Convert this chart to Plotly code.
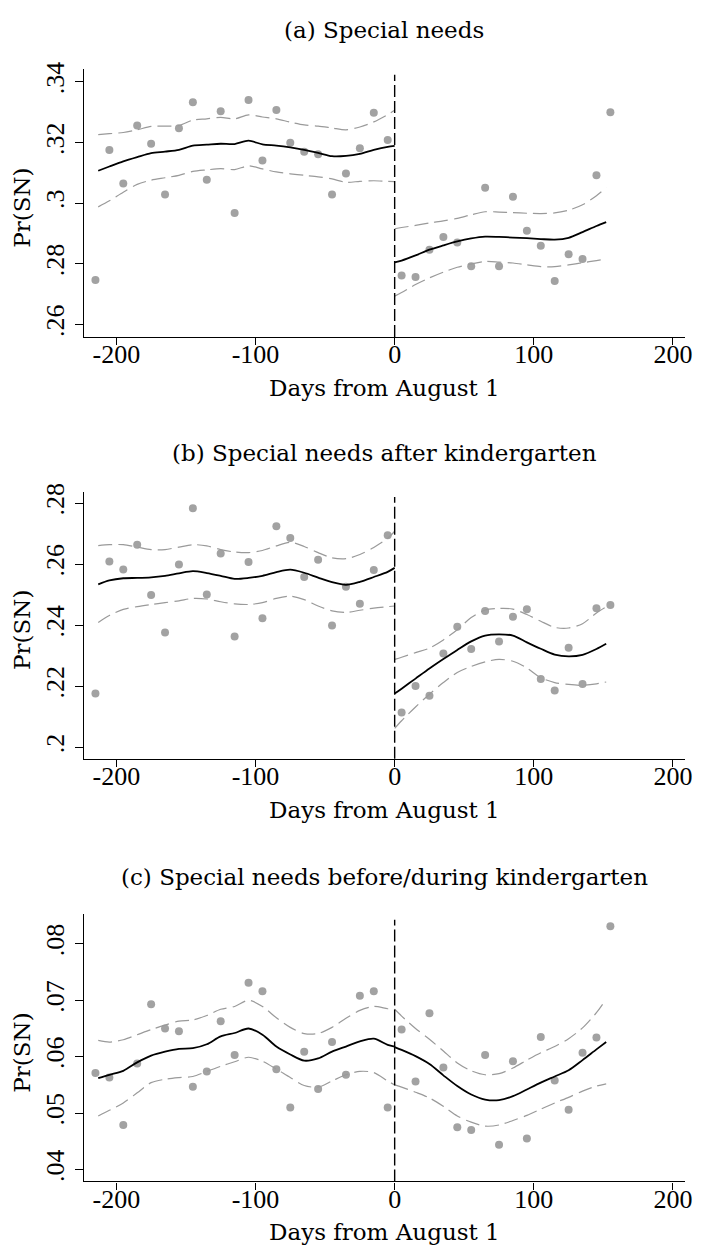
import plotly.graph_objects as go

# ---------------- data ----------------
BIN_LEFT = [-215, -205, -195, -185, -175, -165, -155, -145, -135, -125, -115,
            -105, -95, -85, -75, -65, -55, -45, -35, -25, -15, -5]
BIN_RIGHT = [5, 15, 25, 35, 45, 55, 65, 75, 85, 95, 105, 115, 125, 135, 145, 155]
GRID_LEFT = [-213, -205, -195, -185, -175, -165, -155, -145, -135, -125, -115,
             -105, -95, -85, -75, -65, -55, -45, -35, -25, -15, -5, 0]
GRID_RIGHT = [0, 5, 15, 25, 35, 45, 55, 65, 75, 85, 95, 105, 115, 125, 135, 145, 152]

# Panel (a) Special needs
A_PTS_L = [0.2747, 0.3175, 0.3065, 0.3256, 0.3196, 0.3029, 0.3247, 0.3333, 0.3077, 0.3303, 0.2968,
           0.3340, 0.3141, 0.3307, 0.3199, 0.3170, 0.3161, 0.3029, 0.3098, 0.3181, 0.3298, 0.3208]
A_PTS_R = [0.2762, 0.2757, 0.2847, 0.2889, 0.2871, 0.2792, 0.3051, 0.2792, 0.3021, 0.2909, 0.2860,
           0.2744, 0.2832, 0.2816, 0.3092, 0.3300]
A_FIT_L = [0.3107, 0.3121, 0.3138, 0.3152, 0.3165, 0.3170, 0.3176, 0.3190, 0.3193, 0.3196, 0.3195,
           0.3206, 0.3194, 0.3190, 0.3184, 0.3176, 0.3166, 0.3155, 0.3156, 0.3163, 0.3176, 0.3186, 0.3189]
A_UP_L = [0.3226, 0.3229, 0.3233, 0.3242, 0.3253, 0.3254, 0.3256, 0.3274, 0.3278, 0.3283, 0.3278,
          0.3291, 0.3284, 0.3278, 0.3267, 0.3258, 0.3254, 0.3248, 0.3242, 0.3251, 0.3268, 0.3292, 0.3306]
A_LO_L = [0.2988, 0.3008, 0.3036, 0.3062, 0.3076, 0.3084, 0.3092, 0.3105, 0.3110, 0.3114, 0.3111,
          0.3123, 0.3113, 0.3103, 0.3097, 0.3092, 0.3087, 0.3080, 0.3069, 0.3072, 0.3074, 0.3072, 0.3071]
A_FIT_R = [0.2805, 0.2811, 0.2828, 0.2847, 0.2861, 0.2874, 0.2884, 0.2890, 0.2889, 0.2887, 0.2885,
           0.2882, 0.2880, 0.2886, 0.2905, 0.2925, 0.2938]
A_UP_R = [0.2916, 0.2920, 0.2927, 0.2935, 0.2942, 0.2950, 0.2962, 0.2972, 0.2971, 0.2969, 0.2967,
          0.2966, 0.2968, 0.2977, 0.2995, 0.3025, 0.3051]
A_LO_R = [0.2694, 0.2706, 0.2732, 0.2754, 0.2773, 0.2789, 0.2800, 0.2808, 0.2806, 0.2803, 0.2797,
          0.2791, 0.2791, 0.2797, 0.2804, 0.2811, 0.2816]

# Panel (b) Special needs after kindergarten
B_PTS_L = [0.2176, 0.2609, 0.2583, 0.2664, 0.2499, 0.2376, 0.2599, 0.2783, 0.2501, 0.2635, 0.2363,
           0.2607, 0.2423, 0.2724, 0.2686, 0.2558, 0.2615, 0.2399, 0.2526, 0.2470, 0.2581, 0.2695]
B_PTS_R = [0.2114, 0.2201, 0.2169, 0.2307, 0.2395, 0.2322, 0.2447, 0.2347, 0.2428, 0.2452, 0.2224,
           0.2186, 0.2326, 0.2207, 0.2456, 0.2466]
B_FIT_L = [0.2534, 0.2547, 0.2554, 0.2555, 0.2557, 0.2562, 0.2570, 0.2577, 0.2571, 0.2562, 0.2552,
           0.2555, 0.2562, 0.2574, 0.2582, 0.2572, 0.2556, 0.2541, 0.2532, 0.2542, 0.2558, 0.2575, 0.2588]
B_UP_L = [0.2661, 0.2664, 0.2664, 0.2656, 0.2648, 0.2648, 0.2656, 0.2664, 0.2660, 0.2648, 0.2640,
          0.2638, 0.2645, 0.2660, 0.2672, 0.2658, 0.2638, 0.2621, 0.2618, 0.2632, 0.2655, 0.2685, 0.2708]
B_LO_L = [0.2409, 0.2432, 0.2452, 0.2461, 0.2468, 0.2474, 0.2480, 0.2488, 0.2486, 0.2477, 0.2470,
          0.2468, 0.2474, 0.2488, 0.2495, 0.2484, 0.2463, 0.2447, 0.2442, 0.2449, 0.2456, 0.2461, 0.2463]
B_FIT_R = [0.2176, 0.2192, 0.2225, 0.2258, 0.2289, 0.2319, 0.2347, 0.2366, 0.2370, 0.2366, 0.2344,
           0.2323, 0.2304, 0.2298, 0.2303, 0.2322, 0.2339]
B_UP_R = [0.2288, 0.2295, 0.2310, 0.2325, 0.2352, 0.2385, 0.2425, 0.2450, 0.2455, 0.2453, 0.2435,
          0.2413, 0.2393, 0.2391, 0.2405, 0.2440, 0.2460]
B_LO_R = [0.2062, 0.2087, 0.2132, 0.2174, 0.2212, 0.2245, 0.2265, 0.2280, 0.2288, 0.2282, 0.2260,
          0.2228, 0.2212, 0.2206, 0.2203, 0.2208, 0.2214]

# Panel (c) Special needs before/during kindergarten
C_PTS_L = [0.0571, 0.0563, 0.0479, 0.0588, 0.0693, 0.0650, 0.0645, 0.0547, 0.0574, 0.0663, 0.0603,
           0.0731, 0.0716, 0.0578, 0.0510, 0.0609, 0.0543, 0.0626, 0.0568, 0.0708, 0.0716, 0.0510]
C_PTS_R = [0.0648, 0.0556, 0.0677, 0.0581, 0.0475, 0.0470, 0.0603, 0.0444, 0.0592, 0.0455, 0.0635,
           0.0558, 0.0506, 0.0607, 0.0634, 0.0831]
C_FIT_L = [0.0562, 0.0568, 0.0575, 0.0590, 0.0602, 0.0609, 0.0614, 0.0615, 0.0622, 0.0636, 0.0642,
           0.0650, 0.0639, 0.0618, 0.0604, 0.0593, 0.0597, 0.0609, 0.0618, 0.0627, 0.0632, 0.0621, 0.0618]
C_UP_L = [0.0629, 0.0626, 0.0630, 0.0639, 0.0648, 0.0656, 0.0663, 0.0665, 0.0673, 0.0684, 0.0689,
          0.0700, 0.0689, 0.0669, 0.0652, 0.0641, 0.0641, 0.0652, 0.0668, 0.0682, 0.0689, 0.0685, 0.0684]
C_LO_L = [0.0495, 0.0505, 0.0518, 0.0536, 0.0554, 0.0560, 0.0563, 0.0565, 0.0574, 0.0583, 0.0591,
          0.0599, 0.0592, 0.0578, 0.0563, 0.0549, 0.0546, 0.0557, 0.0568, 0.0574, 0.0572, 0.0557, 0.0550]
C_FIT_R = [0.0617, 0.0612, 0.0601, 0.0587, 0.0567, 0.0548, 0.0533, 0.0524, 0.0523, 0.0530, 0.0542,
           0.0554, 0.0565, 0.0576, 0.0594, 0.0613, 0.0626]
C_UP_R = [0.0684, 0.0672, 0.0650, 0.0631, 0.0610, 0.0589, 0.0575, 0.0568, 0.0570, 0.0580, 0.0594,
          0.0607, 0.0618, 0.0632, 0.0651, 0.0678, 0.0702]
C_LO_R = [0.0550, 0.0546, 0.0537, 0.0527, 0.0512, 0.0495, 0.0484, 0.0477, 0.0479, 0.0487, 0.0496,
          0.0507, 0.0518, 0.0528, 0.0539, 0.0548, 0.0552]

TITLES = ["(a) Special needs", "(b) Special needs after kindergarten",
          "(c) Special needs before/during kindergarten"]
X_TICKS = [-200, -100, 0, 100, 200]
X_TICK_TEXT = ["-200", "-100", "0", "100", "200"]
Y_TICKS = [[0.26, 0.28, 0.30, 0.32, 0.34], [0.20, 0.22, 0.24, 0.26, 0.28], [0.04, 0.05, 0.06, 0.07, 0.08]]
Y_TICK_TEXT = [[".26", ".28", ".3", ".32", ".34"], [".2", ".22", ".24", ".26", ".28"],
               [".04", ".05", ".06", ".07", ".08"]]
Y_RANGES = [[0.25597, 0.34412], [0.1962, 0.2838], [0.0379, 0.0852]]
X_TITLE = "Days from August 1"
Y_TITLE = "Pr(SN)"

# ---------------- layout geometry (pixels) ----------------
W, H = 704, 1251
PLOT_LEFT, PLOT_RIGHT = 85, 692.7
PANEL_TOPS = [61.7, 486.7, 912.3]
PANEL_BOTTOMS = [331.0, 755.7, 1181.0]
TITLE_Y = [22, 448, 875]

TEXT_FONT = "DejaVu Serif"
TICK_FONT = "Liberation Serif"
DOT_COLOR = "#a2a2a2"
CI_COLOR = "#9a9a9a"

panels = [
    (A_PTS_L, A_PTS_R, A_FIT_L, A_UP_L, A_LO_L, A_FIT_R, A_UP_R, A_LO_R),
    (B_PTS_L, B_PTS_R, B_FIT_L, B_UP_L, B_LO_L, B_FIT_R, B_UP_R, B_LO_R),
    (C_PTS_L, C_PTS_R, C_FIT_L, C_UP_L, C_LO_L, C_FIT_R, C_UP_R, C_LO_R),
]

fig = go.Figure()
layout = dict(
    width=W, height=H, margin=dict(l=0, r=0, t=0, b=0),
    paper_bgcolor="white", plot_bgcolor="white", showlegend=False,
    annotations=[], shapes=[],
)

xd = [PLOT_LEFT / W, PLOT_RIGHT / W]
for i, (pl, pr, fl, ul, ll, fr, ur, lr) in enumerate(panels):
    n = "" if i == 0 else str(i + 1)
    xa, ya = "x" + n, "y" + n
    yd = [1 - PANEL_BOTTOMS[i] / H, 1 - PANEL_TOPS[i] / H]

    for xs, ys in ((BIN_LEFT, pl), (BIN_RIGHT, pr)):
        fig.add_trace(go.Scatter(x=xs, y=ys, mode="markers", xaxis=xa, yaxis=ya,
                                 marker=dict(size=8, color=DOT_COLOR, line=dict(width=0))))
    for xs, ys in ((GRID_LEFT, ul), (GRID_LEFT, ll), (GRID_RIGHT, ur), (GRID_RIGHT, lr)):
        fig.add_trace(go.Scatter(x=xs, y=ys, mode="lines", xaxis=xa, yaxis=ya,
                                 line=dict(color=CI_COLOR, width=1.2, dash="14px,6px",
                                           shape="spline", smoothing=0.8)))
    for xs, ys in ((GRID_LEFT, fl), (GRID_RIGHT, fr)):
        fig.add_trace(go.Scatter(x=xs, y=ys, mode="lines", xaxis=xa, yaxis=ya,
                                 line=dict(color="black", width=1.8, shape="spline", smoothing=0.8)))

    layout["xaxis" + n] = dict(
        domain=xd, range=[-223.2, 208.5], anchor=ya,
        tickmode="array", tickvals=X_TICKS, ticktext=X_TICK_TEXT,
        ticks="outside", ticklen=7, tickwidth=1.2, tickcolor="black",
        showline=True, linecolor="black", linewidth=1.3,
        showgrid=False, zeroline=False, ticklabelstandoff=-13,
        tickfont=dict(family=TICK_FONT, size=26, color="black"),
    )
    layout["yaxis" + n] = dict(
        domain=yd, range=Y_RANGES[i], anchor=xa,
        tickmode="array", tickvals=Y_TICKS[i], ticktext=Y_TICK_TEXT[i], tickangle=-90,
        ticks="outside", ticklen=8, tickwidth=1.2, tickcolor="black",
        showline=True, linecolor="black", linewidth=1.3,
        showgrid=False, zeroline=False,
        tickfont=dict(family=TICK_FONT, size=26, color="black"),
    )
    layout["shapes"].append(dict(type="line", xref=xa, yref=ya + " domain", x0=0, x1=0, y0=0, y1=0.98,
                                 line=dict(color="black", width=1.4, dash="12px,4px")))
    cx = (xd[0] + xd[1]) / 2
    layout["annotations"].append(dict(text=TITLES[i], xref="paper", yref="paper", x=cx,
                                      y=1 - TITLE_Y[i] / H, xanchor="center", yanchor="middle",
                                      showarrow=False,
                                      font=dict(family=TEXT_FONT, size=23, color="black")))
    layout["annotations"].append(dict(text=X_TITLE, xref="paper", yref="paper", x=cx,
                                      y=1 - (PANEL_BOTTOMS[i] + 51) / H, xanchor="center",
                                      yanchor="middle", showarrow=False,
                                      font=dict(family=TEXT_FONT, size=23, color="black")))
    layout["annotations"].append(dict(text=Y_TITLE, xref="paper", yref="paper", x=22 / W,
                                      y=1 - ((PANEL_TOPS[i] + PANEL_BOTTOMS[i]) / 2 + 5) / H,
                                      xanchor="center", yanchor="middle", textangle=-90,
                                      showarrow=False,
                                      font=dict(family=TEXT_FONT, size=23, color="black")))

fig.update_layout(**layout)
fig.write_html("out.html")
